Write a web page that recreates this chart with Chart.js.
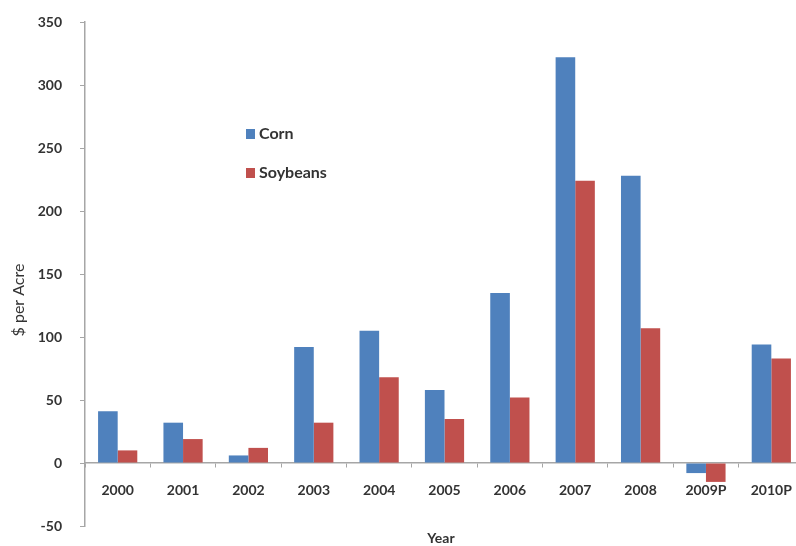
<!DOCTYPE html>
<html>
<head>
<meta charset="utf-8">
<script src="https://cdn.jsdelivr.net/npm/chart.js@4/dist/chart.umd.min.js"></script>
<style>
  html, body { margin: 0; padding: 0; background: #fff; overflow: hidden; }
  #wrap { position: absolute; left: 0; top: 0; width: 796px; height: 546px; overflow: hidden; }
  canvas { display: block; }
</style>
</head>
<body>
<div id="wrap"><canvas id="c" width="812" height="546"></canvas></div>
<script>
// Returns over cost, $ per acre
const years = ['2000', '2001', '2002', '2003', '2004', '2005', '2006', '2007', '2008', '2009P', '2010P'];
const corn = [41, 32, 6, 92, 105, 58, 135, 322, 228, -8, 94];
const soybeans = [10, 19, 12, 32, 68, 35, 52, 224, 107, -15, 83];
const yTicks = [-50, 0, 50, 100, 150, 200, 250, 300, 350];

const seriesNames = ['Corn', 'Soybeans'];
const seriesColors = ['#4F81BD', '#C0504D'];
const axisColor = '#a6a6a6';
const textColor = '#333333';
const fontFamily = 'Lato, "Open Sans", sans-serif';

// Legend stacked vertically inside the plot
const innerLegend = {
  id: 'innerLegend',
  afterDraw(chart) {
    const ctx = chart.ctx;
    const rows = [134, 173];
    ctx.save();
    ctx.font = 'bold 16px ' + fontFamily;
    ctx.textBaseline = 'middle';
    ctx.textAlign = 'left';
    chart.data.datasets.forEach((ds, i) => {
      ctx.fillStyle = ds.backgroundColor;
      ctx.fillRect(246, rows[i] - 5, 9, 10);
      ctx.fillStyle = textColor;
      ctx.fillText(ds.label, 259, rows[i]);
    });
    ctx.restore();
  }
};

// Axis titles
const axisTitles = {
  id: 'axisTitles',
  afterDraw(chart) {
    const ctx = chart.ctx;
    ctx.save();
    ctx.fillStyle = textColor;
    ctx.textAlign = 'center';
    ctx.textBaseline = 'middle';
    ctx.font = 'bold 14px ' + fontFamily;
    ctx.fillText('Year', 441, 538);
    ctx.translate(19, 300);
    ctx.rotate(-Math.PI / 2);
    ctx.font = '16px ' + fontFamily;
    ctx.fillText('$ per Acre', 0, 0);
    ctx.restore();
  }
};

new Chart(document.getElementById('c'), {
  type: 'bar',
  data: {
    labels: years,
    datasets: [
      { label: seriesNames[0], data: corn, backgroundColor: seriesColors[0] },
      { label: seriesNames[1], data: soybeans, backgroundColor: seriesColors[1] }
    ]
  },
  options: {
    responsive: false,
    maintainAspectRatio: false,
    animation: false,
    devicePixelRatio: 1,
    layout: { padding: { top: 22, right: 8, bottom: 20, left: 0 } },
    datasets: { bar: { categoryPercentage: 0.6, barPercentage: 1.0 } },
    plugins: {
      legend: { display: false },
      title: { display: false },
      tooltip: { enabled: false }
    },
    scales: {
      x: {
        position: { y: 0 },
        offset: true,
        afterFit(scale) { scale.paddingTop = 0; scale.paddingBottom = 0; },
        grid: {
          offset: true,
          drawOnChartArea: false,
          drawTicks: true,
          tickLength: 4,
          color: axisColor
        },
        border: { display: true, color: axisColor, width: 1.5 },
        ticks: {
          color: textColor,
          padding: 15,
          maxRotation: 0,
          autoSkip: false,
          font: { family: fontFamily, size: 14, weight: 'bold' }
        }
      },
      y: {
        min: -50,
        max: 350,
        afterBuildTicks(scale) {
          scale.ticks = yTicks.map(v => ({ value: v }));
        },
        afterFit(scale) {
          scale.width = 85;
          scale.paddingTop = 0;
          scale.paddingBottom = 0;
        },
        grid: {
          drawOnChartArea: false,
          drawTicks: true,
          tickLength: 5,
          color: axisColor
        },
        border: { display: true, color: axisColor, width: 1.5 },
        ticks: {
          color: textColor,
          padding: 18,
          font: { family: fontFamily, size: 14, weight: 'bold' }
        }
      }
    }
  },
  plugins: [innerLegend, axisTitles]
});
</script>
</body>
</html>
